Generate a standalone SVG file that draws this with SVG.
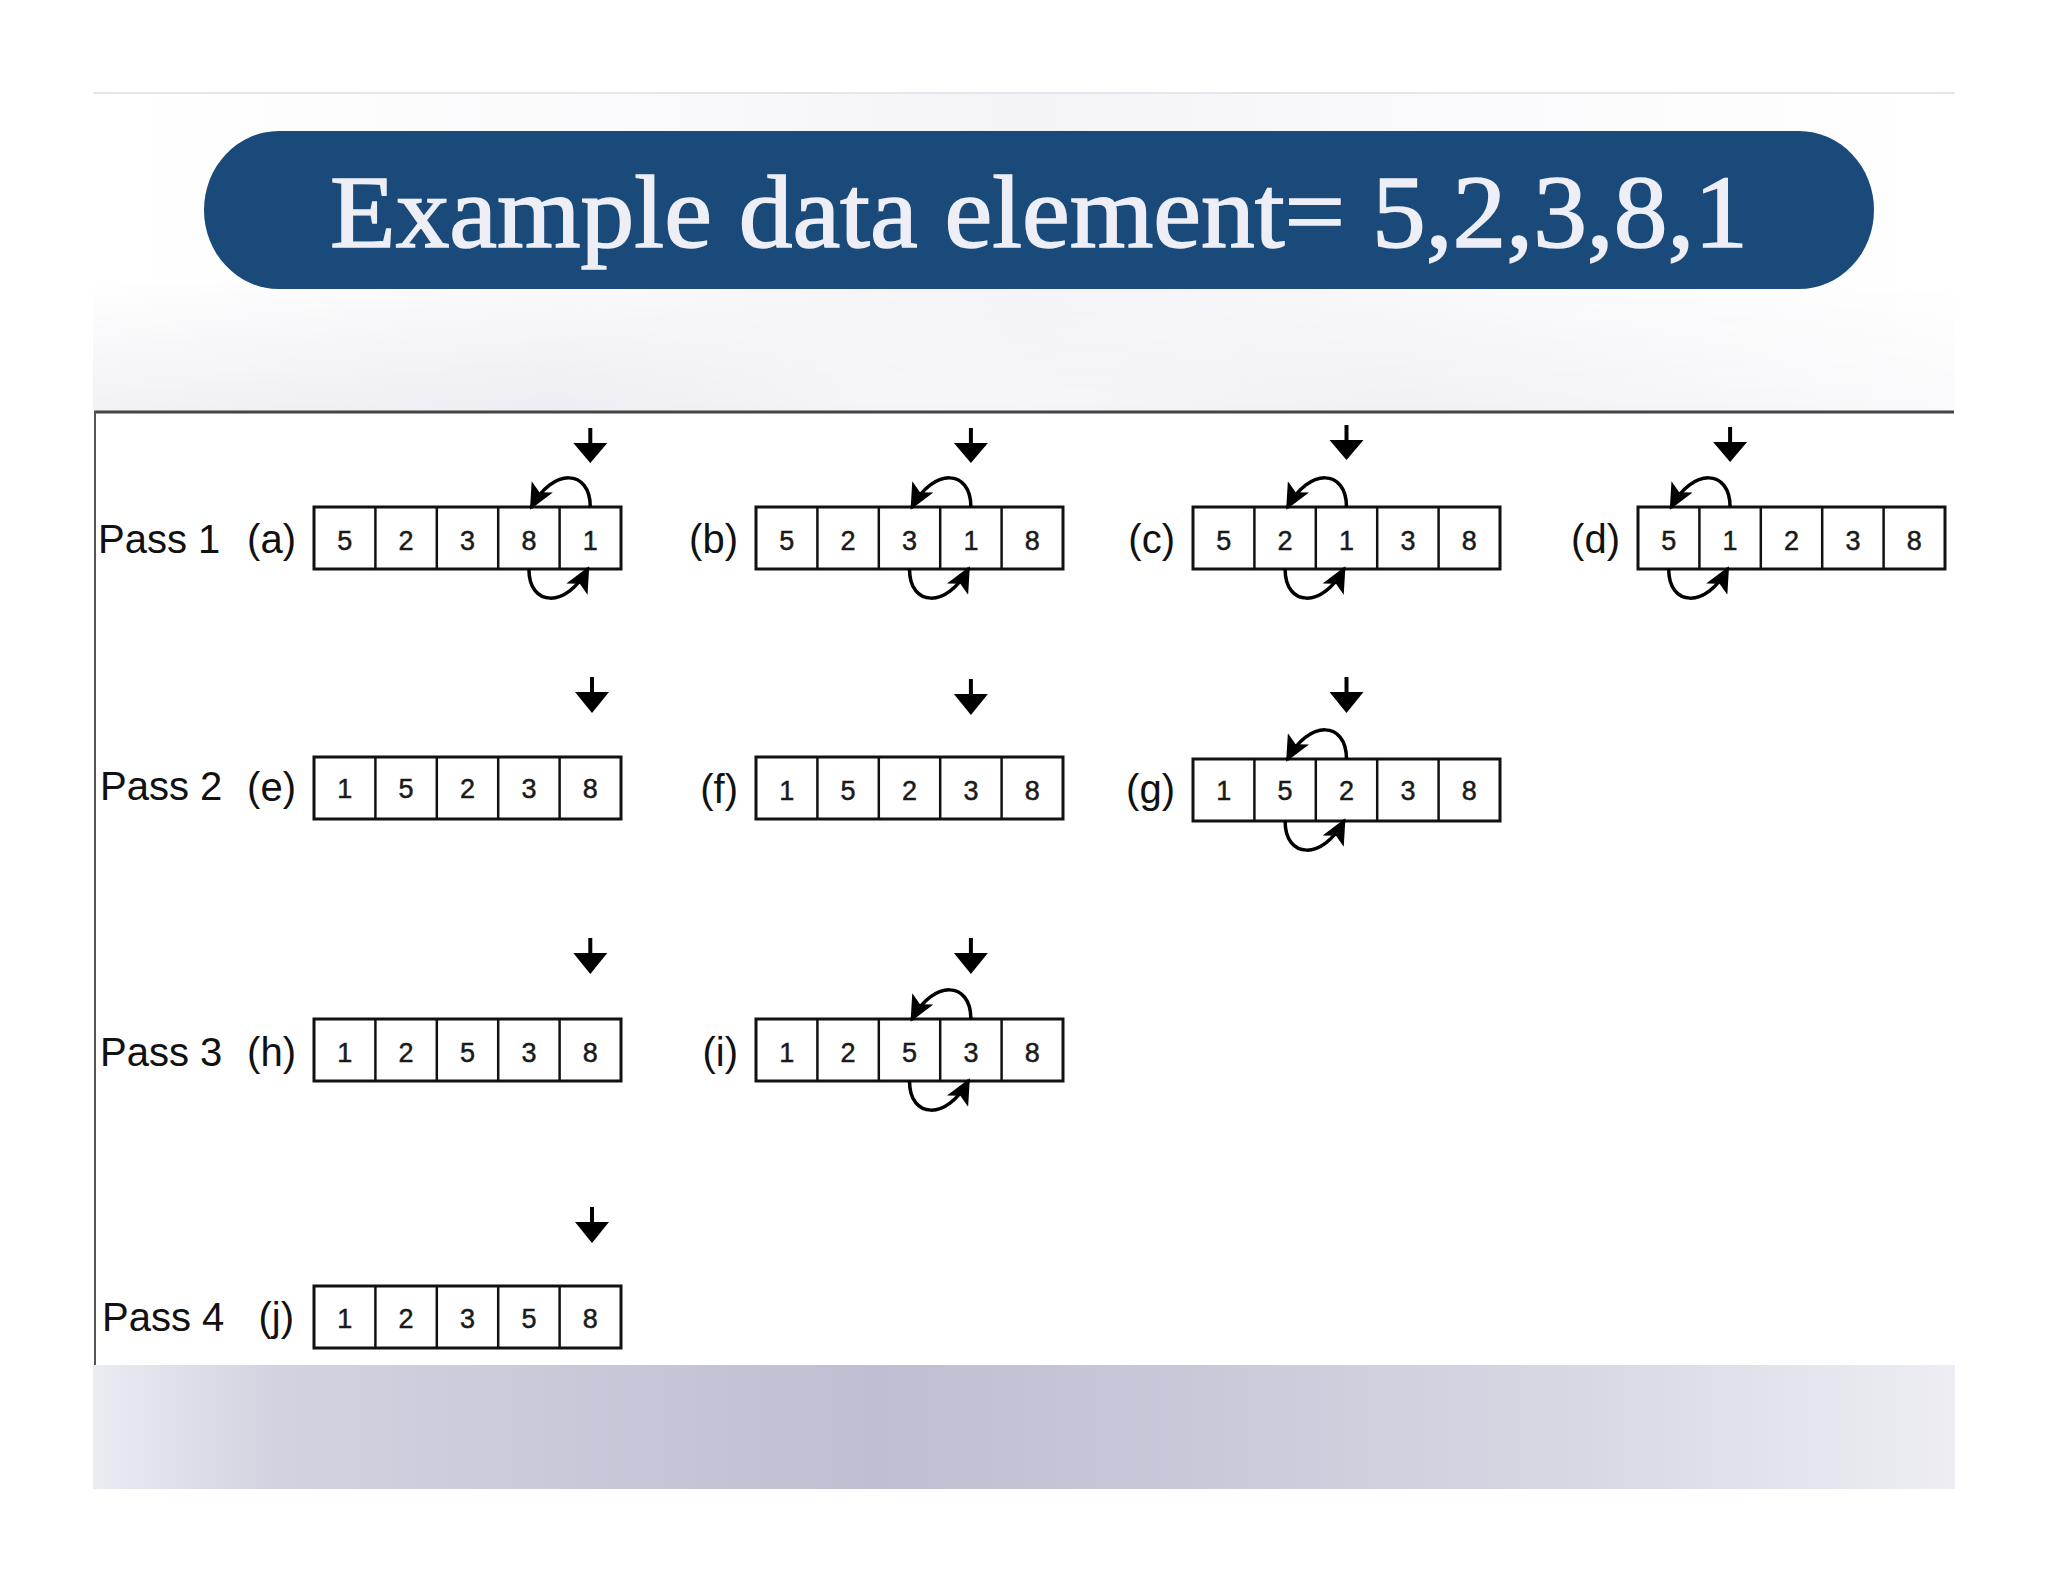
<svg xmlns="http://www.w3.org/2000/svg" width="2048" height="1582" viewBox="0 0 2048 1582">
<defs>
<linearGradient id="topbg" x1="0" y1="0" x2="1" y2="0">
<stop offset="0" stop-color="#ffffff"/>
<stop offset="0.3" stop-color="#fafafc"/>
<stop offset="0.5" stop-color="#f4f4f8"/>
<stop offset="0.75" stop-color="#fbfbfd"/>
<stop offset="1" stop-color="#ffffff"/>
</linearGradient>
<linearGradient id="haze" x1="0" y1="0" x2="1" y2="0">
<stop offset="0" stop-color="#f2f2f6"/>
<stop offset="0.25" stop-color="#ececf2"/>
<stop offset="0.45" stop-color="#f6f6f9"/>
<stop offset="0.7" stop-color="#f0f0f5"/>
<stop offset="1" stop-color="#fafafc"/>
</linearGradient>
<linearGradient id="hazeMask" x1="0" y1="0" x2="0" y2="1">
<stop offset="0" stop-color="#fff" stop-opacity="0"/>
<stop offset="1" stop-color="#fff" stop-opacity="1"/>
</linearGradient>
<mask id="fade">
<rect x="93" y="280" width="1862" height="131" fill="url(#hazeMask)"/>
</mask>
<linearGradient id="band" x1="0" y1="0" x2="1" y2="0">
<stop offset="0" stop-color="#ebebf2"/>
<stop offset="0.1" stop-color="#d2d2e0"/>
<stop offset="0.3" stop-color="#c6c6d8"/>
<stop offset="0.42" stop-color="#bfbfd3"/>
<stop offset="0.6" stop-color="#c9c9da"/>
<stop offset="0.8" stop-color="#d8d8e4"/>
<stop offset="1" stop-color="#ededf3"/>
</linearGradient>
<marker id="ah" markerUnits="userSpaceOnUse" markerWidth="26" markerHeight="24" viewBox="0 0 26 24" refX="24" refY="12" orient="auto">
<path d="M0,0 L26,12 L0,24 L6,12 z" fill="#000"/>
</marker>
<style>
.box{fill:#fff;stroke:#111;stroke-width:3}
.div{stroke:#111;stroke-width:2.5}
.num{font-family:"Liberation Sans",Arial,sans-serif;font-size:27px;fill:#1a1a1a;stroke:#1a1a1a;stroke-width:0.5;text-anchor:middle}
.lbl{font-family:"Liberation Sans",Arial,sans-serif;font-size:40px;fill:#111}
.tag{font-family:"Liberation Sans",Arial,sans-serif;font-size:40px;fill:#111;text-anchor:end}
.ptr{fill:#000}
.shaft{stroke:#000;stroke-width:4}
.swap{fill:none;stroke:#000;stroke-width:3.5;marker-end:url(#ah)}
</style>
</defs>
<rect x="0" y="0" width="2048" height="1582" fill="#fff"/>
<g id="slide-bg">
<rect x="93" y="93" width="1862" height="318" fill="url(#topbg)"/>
<rect x="93" y="280" width="1862" height="131" fill="url(#haze)" mask="url(#fade)"/>
<line x1="93" y1="93" x2="1955" y2="93" stroke="#e6e6ea" stroke-width="2"/>
<rect x="93" y="1365" width="1862" height="124" fill="url(#band)"/>
</g>
<g id="title">
<rect x="204" y="131" width="1670" height="158" rx="75" ry="79" fill="#1a4a7a"/>
<text x="1039" y="247" font-family="Liberation Serif,'Times New Roman',serif" font-size="104" fill="#eeeef6" stroke="#eeeef6" stroke-width="1.6" text-anchor="middle" textLength="1418" lengthAdjust="spacingAndGlyphs">Example data element= 5,2,3,8,1</text>
</g>
<g id="panel">
<rect x="94" y="411" width="1860" height="954" fill="#fff"/>
<line x1="94" y1="412" x2="1954" y2="412" stroke="#444" stroke-width="3"/>
<line x1="95" y1="411" x2="95" y2="1365" stroke="#555" stroke-width="2"/>
</g>
<g id="row-labels">
<text class="lbl" x="98" y="553">Pass 1</text>
<text class="lbl" x="100" y="800">Pass 2</text>
<text class="lbl" x="100" y="1066">Pass 3</text>
<text class="lbl" x="102" y="1331">Pass 4</text>
</g>
<g id="array-a" transform="translate(314,507)">
<text class="tag" x="-18" y="46">(a)</text>
<rect class="box" x="0" y="0" width="307" height="62"/>
<line class="div" x1="61.4" y1="0" x2="61.4" y2="62"/><line class="div" x1="122.8" y1="0" x2="122.8" y2="62"/><line class="div" x1="184.2" y1="0" x2="184.2" y2="62"/><line class="div" x1="245.6" y1="0" x2="245.6" y2="62"/>
<text class="num" x="30.7" y="43">5</text><text class="num" x="92.1" y="43">2</text><text class="num" x="153.5" y="43">3</text><text class="num" x="214.9" y="43">8</text><text class="num" x="276.3" y="43">1</text>
<line class="shaft" x1="276.3" y1="-79" x2="276.3" y2="-62"/><polygon class="ptr" points="259.3,-64 293.3,-64 276.3,-44"/>
</g>
<g id="array-b" transform="translate(756,507)">
<text class="tag" x="-18" y="46">(b)</text>
<rect class="box" x="0" y="0" width="307" height="62"/>
<line class="div" x1="61.4" y1="0" x2="61.4" y2="62"/><line class="div" x1="122.8" y1="0" x2="122.8" y2="62"/><line class="div" x1="184.2" y1="0" x2="184.2" y2="62"/><line class="div" x1="245.6" y1="0" x2="245.6" y2="62"/>
<text class="num" x="30.7" y="43">5</text><text class="num" x="92.1" y="43">2</text><text class="num" x="153.5" y="43">3</text><text class="num" x="214.9" y="43">1</text><text class="num" x="276.3" y="43">8</text>
<line class="shaft" x1="214.9" y1="-79" x2="214.9" y2="-62"/><polygon class="ptr" points="197.9,-64 231.9,-64 214.9,-44"/>
</g>
<g id="array-c" transform="translate(1193,507)">
<text class="tag" x="-18" y="46">(c)</text>
<rect class="box" x="0" y="0" width="307" height="62"/>
<line class="div" x1="61.4" y1="0" x2="61.4" y2="62"/><line class="div" x1="122.8" y1="0" x2="122.8" y2="62"/><line class="div" x1="184.2" y1="0" x2="184.2" y2="62"/><line class="div" x1="245.6" y1="0" x2="245.6" y2="62"/>
<text class="num" x="30.7" y="43">5</text><text class="num" x="92.1" y="43">2</text><text class="num" x="153.5" y="43">1</text><text class="num" x="214.9" y="43">3</text><text class="num" x="276.3" y="43">8</text>
<line class="shaft" x1="153.5" y1="-82" x2="153.5" y2="-65"/><polygon class="ptr" points="136.5,-67 170.5,-67 153.5,-47"/>
</g>
<g id="array-d" transform="translate(1638,507)">
<text class="tag" x="-18" y="46">(d)</text>
<rect class="box" x="0" y="0" width="307" height="62"/>
<line class="div" x1="61.4" y1="0" x2="61.4" y2="62"/><line class="div" x1="122.8" y1="0" x2="122.8" y2="62"/><line class="div" x1="184.2" y1="0" x2="184.2" y2="62"/><line class="div" x1="245.6" y1="0" x2="245.6" y2="62"/>
<text class="num" x="30.7" y="43">5</text><text class="num" x="92.1" y="43">1</text><text class="num" x="153.5" y="43">2</text><text class="num" x="214.9" y="43">3</text><text class="num" x="276.3" y="43">8</text>
<line class="shaft" x1="92.1" y1="-80" x2="92.1" y2="-63"/><polygon class="ptr" points="75.1,-65 109.1,-65 92.1,-45"/>
</g>
<g id="array-e" transform="translate(314,757)">
<text class="tag" x="-18" y="44">(e)</text>
<rect class="box" x="0" y="0" width="307" height="62"/>
<line class="div" x1="61.4" y1="0" x2="61.4" y2="62"/><line class="div" x1="122.8" y1="0" x2="122.8" y2="62"/><line class="div" x1="184.2" y1="0" x2="184.2" y2="62"/><line class="div" x1="245.6" y1="0" x2="245.6" y2="62"/>
<text class="num" x="30.7" y="41">1</text><text class="num" x="92.1" y="41">5</text><text class="num" x="153.5" y="41">2</text><text class="num" x="214.9" y="41">3</text><text class="num" x="276.3" y="41">8</text>
<line class="shaft" x1="278" y1="-80" x2="278" y2="-63"/><polygon class="ptr" points="261,-65 295,-65 278,-44"/>
</g>
<g id="array-f" transform="translate(756,757)">
<text class="tag" x="-18" y="46">(f)</text>
<rect class="box" x="0" y="0" width="307" height="62"/>
<line class="div" x1="61.4" y1="0" x2="61.4" y2="62"/><line class="div" x1="122.8" y1="0" x2="122.8" y2="62"/><line class="div" x1="184.2" y1="0" x2="184.2" y2="62"/><line class="div" x1="245.6" y1="0" x2="245.6" y2="62"/>
<text class="num" x="30.7" y="43">1</text><text class="num" x="92.1" y="43">5</text><text class="num" x="153.5" y="43">2</text><text class="num" x="214.9" y="43">3</text><text class="num" x="276.3" y="43">8</text>
<line class="shaft" x1="214.9" y1="-78" x2="214.9" y2="-61"/><polygon class="ptr" points="197.9,-63 231.9,-63 214.9,-42"/>
</g>
<g id="array-g" transform="translate(1193,759)">
<text class="tag" x="-18" y="44">(g)</text>
<rect class="box" x="0" y="0" width="307" height="62"/>
<line class="div" x1="61.4" y1="0" x2="61.4" y2="62"/><line class="div" x1="122.8" y1="0" x2="122.8" y2="62"/><line class="div" x1="184.2" y1="0" x2="184.2" y2="62"/><line class="div" x1="245.6" y1="0" x2="245.6" y2="62"/>
<text class="num" x="30.7" y="41">1</text><text class="num" x="92.1" y="41">5</text><text class="num" x="153.5" y="41">2</text><text class="num" x="214.9" y="41">3</text><text class="num" x="276.3" y="41">8</text>
<line class="shaft" x1="153.5" y1="-82" x2="153.5" y2="-65"/><polygon class="ptr" points="136.5,-67 170.5,-67 153.5,-46"/>
</g>
<g id="array-h" transform="translate(314,1019)">
<text class="tag" x="-18" y="47">(h)</text>
<rect class="box" x="0" y="0" width="307" height="62"/>
<line class="div" x1="61.4" y1="0" x2="61.4" y2="62"/><line class="div" x1="122.8" y1="0" x2="122.8" y2="62"/><line class="div" x1="184.2" y1="0" x2="184.2" y2="62"/><line class="div" x1="245.6" y1="0" x2="245.6" y2="62"/>
<text class="num" x="30.7" y="43">1</text><text class="num" x="92.1" y="43">2</text><text class="num" x="153.5" y="43">5</text><text class="num" x="214.9" y="43">3</text><text class="num" x="276.3" y="43">8</text>
<line class="shaft" x1="276.3" y1="-81" x2="276.3" y2="-64"/><polygon class="ptr" points="259.3,-66 293.3,-66 276.3,-45"/>
</g>
<g id="array-i" transform="translate(756,1019)">
<text class="tag" x="-18" y="47">(i)</text>
<rect class="box" x="0" y="0" width="307" height="62"/>
<line class="div" x1="61.4" y1="0" x2="61.4" y2="62"/><line class="div" x1="122.8" y1="0" x2="122.8" y2="62"/><line class="div" x1="184.2" y1="0" x2="184.2" y2="62"/><line class="div" x1="245.6" y1="0" x2="245.6" y2="62"/>
<text class="num" x="30.7" y="43">1</text><text class="num" x="92.1" y="43">2</text><text class="num" x="153.5" y="43">5</text><text class="num" x="214.9" y="43">3</text><text class="num" x="276.3" y="43">8</text>
<line class="shaft" x1="214.9" y1="-81" x2="214.9" y2="-64"/><polygon class="ptr" points="197.9,-66 231.9,-66 214.9,-45"/>
</g>
<g id="array-j" transform="translate(314,1286)">
<text class="tag" x="-20" y="45">(j)</text>
<rect class="box" x="0" y="0" width="307" height="62"/>
<line class="div" x1="61.4" y1="0" x2="61.4" y2="62"/><line class="div" x1="122.8" y1="0" x2="122.8" y2="62"/><line class="div" x1="184.2" y1="0" x2="184.2" y2="62"/><line class="div" x1="245.6" y1="0" x2="245.6" y2="62"/>
<text class="num" x="30.7" y="42">1</text><text class="num" x="92.1" y="42">2</text><text class="num" x="153.5" y="42">3</text><text class="num" x="214.9" y="42">5</text><text class="num" x="276.3" y="42">8</text>
<line class="shaft" x1="278" y1="-79" x2="278" y2="-62"/><polygon class="ptr" points="261,-64 295,-64 278,-43"/>
</g>
<g id="connectors">
<path class="swap" d="M590.3,507 C590.3,469 552.9,467 530.9,508"/>
<path class="swap" d="M528.9,569 C528.9,607 566.3,609 588.3,568"/>
<path class="swap" d="M970.9,507 C970.9,469 933.5,467 911.5,508"/>
<path class="swap" d="M909.5,569 C909.5,607 946.9,609 968.9,568"/>
<path class="swap" d="M1346.5,507 C1346.5,469 1309.1,467 1287.1,508"/>
<path class="swap" d="M1285.1,569 C1285.1,607 1322.5,609 1344.5,568"/>
<path class="swap" d="M1730.1,507 C1730.1,469 1692.7,467 1670.7,508"/>
<path class="swap" d="M1668.7,569 C1668.7,607 1706.1,609 1728.1,568"/>
<path class="swap" d="M1346.5,759 C1346.5,721 1309.1,719 1287.1,760"/>
<path class="swap" d="M1285.1,821 C1285.1,859 1322.5,861 1344.5,820"/>
<path class="swap" d="M970.9,1019 C970.9,981 933.5,979 911.5,1020"/>
<path class="swap" d="M909.5,1081 C909.5,1119 946.9,1121 968.9,1080"/>
</g>
</svg>
